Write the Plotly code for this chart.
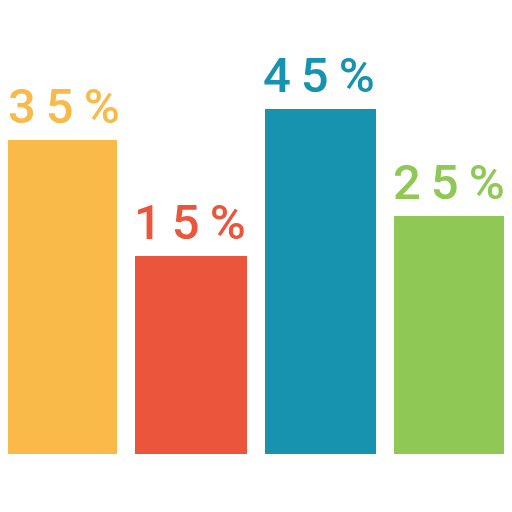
import plotly.graph_objects as go

categories = ["A", "B", "C", "D"]
bar_heights = [314, 198, 345, 238]
labels = ["35%", "15%", "45%", "25%"]
colors = ["#F9BA4A", "#EA553C", "#1893AF", "#8FC854"]
label_xshifts = [2, -1, -1, -1]

xs = list(range(len(categories)))
SP = "\u2009"

fig = go.Figure()
fig.add_trace(go.Bar(
    x=xs, y=bar_heights, width=0.862,
    marker=dict(color=colors, line=dict(width=0)),
    hoverinfo="skip",
))
for x, h, lab, c, dx in zip(xs, bar_heights, labels, colors, label_xshifts):
    fig.add_annotation(
        x=x, y=h, text=SP.join(lab), showarrow=False,
        xanchor="center", yanchor="bottom", yshift=4, xshift=dx,
        borderpad=0,
        font=dict(family="Roboto", size=49, color=c, weight=500),
    )

fig.update_layout(
    width=512, height=512,
    margin=dict(l=0, r=0, t=0, b=0),
    paper_bgcolor="white", plot_bgcolor="white",
    showlegend=False,
    xaxis=dict(range=[-0.415, 3.542], visible=False, fixedrange=True),
    yaxis=dict(range=[-65.7, 446.3], visible=False, fixedrange=True),
    bargap=0,
)
fig.write_html("out.html", config={"displayModeBar": False})
